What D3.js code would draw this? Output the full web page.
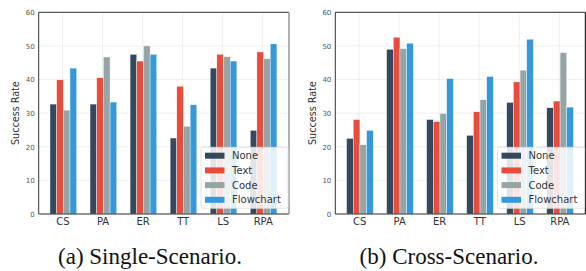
<!DOCTYPE html>
<html><head><meta charset="utf-8">
<script src="https://cdn.jsdelivr.net/npm/d3@7"></script>
<style>body{margin:0;background:#fff}svg{display:block}</style>
</head><body>
<script>
const categories = ["CS","PA","ER","TT","LS","RPA"];
const seriesNames = ["None","Text","Code","Flowchart"];
const colors = ["#34495e","#e74c3c","#95a5a6","#3498db"];
const yTicks = [0,10,20,30,40,50,60];
const singleNone = [32.7,32.7,47.5,22.6,43.4,24.9];
const singleText = [39.9,40.5,45.5,38.0,47.5,48.2];
const singleCode = [30.9,46.7,50.0,26.1,46.8,46.2];
const singleFlow = [43.4,33.3,47.5,32.5,45.5,50.6];
const crossNone = [22.5,49.0,28.1,23.4,33.2,31.6];
const crossText = [28.1,52.6,27.5,30.4,39.3,33.6];
const crossCode = [20.6,49.2,29.9,34.0,42.8,48.0];
const crossFlow = [24.9,50.8,40.3,40.9,52.0,31.8];
const captions = ["(a) Single-Scenario.","(b) Cross-Scenario."];

const W=586,H=271;
const svg=d3.select("body").append("svg").attr("width",W).attr("height",H);

function panel(series, left, right, caption, capX, rightSpineColor){
  const top=12.3,bottom=214;
  const x=d3.scaleLinear().domain([-0.615,5.635]).range([left,right]);
  const y=d3.scaleLinear().domain([0,60]).range([bottom,top]);
  const g=svg.append("g");
  g.selectAll("line.hg").data(yTicks).enter().append("line").attr("class","hg")
    .attr("x1",left).attr("x2",right).attr("y1",d=>y(d)).attr("y2",d=>y(d))
    .attr("stroke","#ebebeb").attr("stroke-width",0.8);
  g.selectAll("line.vg").data(categories).enter().append("line").attr("class","vg")
    .attr("x1",(d,i)=>x(i)-0.8).attr("x2",(d,i)=>x(i)-0.8).attr("y1",top).attr("y2",bottom)
    .attr("stroke","#ebebeb").attr("stroke-width",0.8);
  const bw=1/6;
  series.forEach((vals,k)=>{
    g.selectAll("rect.bar"+k).data(vals).enter().append("rect").attr("class","bar"+k)
      .attr("x",(d,i)=>x(i+(k-2)*bw)).attr("width",x(bw)-x(0))
      .attr("y",d=>y(d)).attr("height",d=>y(0)-y(d))
      .attr("fill",colors[k]).attr("stroke","#fff").attr("stroke-width",0.4);
  });
  const ya=d3.axisLeft(y).tickValues(yTicks).tickSize(0).tickPadding(4);
  const yg=g.append("g").attr("transform",`translate(${left},0)`).call(ya);
  yg.select(".domain").remove();
  yg.selectAll("text").attr("font-family","DejaVu Sans").attr("font-size",7).attr("fill","#555");
  const xa=d3.axisBottom(x).tickValues(d3.range(categories.length)).tickFormat(i=>categories[i]).tickSize(0).tickPadding(4);
  const xg=g.append("g").attr("transform",`translate(-0.8,${bottom})`).call(xa);
  xg.select(".domain").remove();
  xg.selectAll("text").attr("font-family","DejaVu Sans").attr("font-size",10).attr("fill","#333");
  g.append("line").attr("x1",left).attr("x2",right).attr("y1",top).attr("y2",top).attr("stroke","#333").attr("stroke-width",1);
  g.append("line").attr("x1",left).attr("x2",right).attr("y1",bottom).attr("y2",bottom).attr("stroke","#333").attr("stroke-width",1);
  g.append("line").attr("x1",left).attr("x2",left).attr("y1",top).attr("y2",bottom).attr("stroke","#333").attr("stroke-width",1);
  g.append("line").attr("x1",right).attr("x2",right).attr("y1",top).attr("y2",bottom).attr("stroke",rightSpineColor).attr("stroke-width",1.5);
  g.append("text").attr("transform",`translate(${left-19.5},${(top+bottom)/2}) rotate(-90)`)
    .attr("text-anchor","middle").attr("font-family","DejaVu Sans").attr("font-size",9.6).attr("fill","#333").text("Success Rate");
  const lx=right-88, ly=147.3;
  g.append("rect").attr("x",lx).attr("y",ly).attr("width",87).attr("height",61).attr("rx",2)
    .attr("fill","#fff").attr("fill-opacity",0.85).attr("stroke","#ddd").attr("stroke-width",0.8);
  seriesNames.forEach((n,k)=>{
    const cy=155.7+k*14.7;
    g.append("rect").attr("x",lx+4).attr("y",cy-3).attr("width",19.5).attr("height",6).attr("fill",colors[k]);
    g.append("text").attr("x",lx+31).attr("y",cy+3.6).attr("font-family","DejaVu Sans").attr("font-size",10).attr("fill","#333").text(n);
  });
  svg.append("text").attr("x",capX).attr("y",264).attr("text-anchor","middle")
    .attr("font-family","'Liberation Serif', 'DejaVu Serif', serif")
    .attr("font-size",23).attr("fill","#111").text(caption);
}
panel([singleNone,singleText,singleCode,singleFlow],38.7,289,captions[0],150,"#999");
panel([crossNone,crossText,crossCode,crossFlow],335.3,585.5,captions[1],449,"#333");
</script>
</body></html>
